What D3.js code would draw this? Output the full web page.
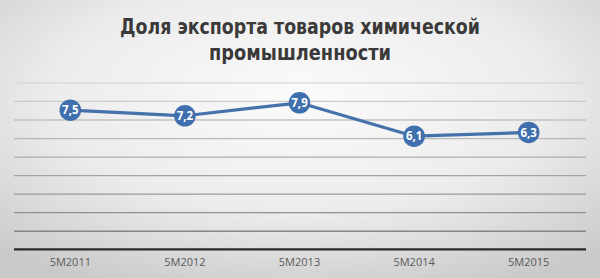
<!DOCTYPE html>
<html><head><meta charset="utf-8">
<script src="https://cdn.jsdelivr.net/npm/d3@7"></script>
<style>html,body{margin:0;padding:0;overflow:hidden;}svg{display:block;}</style>
</head><body>
<svg id="c" width="600" height="278"></svg>
<script>
const categories = ["5M2011","5M2012","5M2013","5M2014","5M2015"];
const values = [7.5, 7.2, 7.9, 6.1, 6.3];
const valueLabels = ["7,5","7,2","7,9","6,1","6,3"];
const yTicks = [0,1,2,3,4,5,6,7,8,9];
const titleLines = ["Доля экспорта товаров химической","промышленности"];

const W = 600, H = 278;
const svg = d3.select("#c");
const defs = svg.append("defs");
const rg = defs.append("radialGradient").attr("id","bg").attr("cx","50%").attr("cy","35%").attr("r","75%");
rg.append("stop").attr("offset","0%").attr("stop-color","#fbfbfb");
rg.append("stop").attr("offset","55%").attr("stop-color","#ececec");
rg.append("stop").attr("offset","100%").attr("stop-color","#c9c9c9");
svg.append("rect").attr("width",W).attr("height",H).attr("fill","url(#bg)");

const x = d3.scaleBand().domain(categories).range([13, 586]);
const y = d3.scaleLinear().domain([0, 9]).range([249.3, 82.4]);

const gridColor = d3.scaleLinear().domain([1, 9]).range(["#858585", "#d6d6d6"]);
const grid = svg.append("g").attr("transform","translate(14,0)")
  .call(d3.axisRight(y).tickValues(yTicks.filter(d=>d>0)).tickSize(572).tickFormat(""));
grid.select(".domain").remove();
grid.selectAll(".tick line").attr("stroke", d=>gridColor(d)).attr("stroke-width",1.3);

const xa = svg.append("g").attr("transform",`translate(0,${y(0)})`)
  .call(d3.axisBottom(x).tickSize(0).tickPadding(9));
xa.select(".domain").attr("stroke","#2b2b2b").attr("stroke-width",2.2).attr("d","M14,0H586");
xa.selectAll("text").attr("fill","#5a5a5a").attr("font-family","'Open Sans', sans-serif").attr("font-size",11);

const line = d3.line().x((d,i)=>x(categories[i])+x.bandwidth()/2).y(d=>y(d));
svg.append("path").datum(values).attr("d",line).attr("fill","none")
  .attr("stroke","#4672ac").attr("stroke-width",3.2).attr("stroke-linejoin","round");

const pts = svg.selectAll(".pt").data(values).enter().append("g")
  .attr("transform",(d,i)=>`translate(${x(categories[i])+x.bandwidth()/2},${y(d)})`);
pts.append("circle").attr("r",10.8).attr("fill","#3f6fad");
pts.append("text").text((d,i)=>valueLabels[i]).attr("text-anchor","middle").attr("dy","0.36em")
  .attr("fill","#fff").attr("font-family","'Open Sans', sans-serif").attr("font-weight","bold").attr("font-size",11.5);

const titleWidths = [360, 182];
svg.selectAll(".title").data(titleLines).enter().append("text")
  .attr("x",300).attr("y",(d,i)=>34+i*25.5).attr("text-anchor","middle")
  .attr("fill","#3a3a3a").attr("font-family","'DejaVu Sans', sans-serif").attr("font-weight","bold")
  .attr("font-size",21).attr("textLength",(d,i)=>titleWidths[i]).attr("lengthAdjust","spacingAndGlyphs")
  .text(d=>d);
</script>
</body></html>
